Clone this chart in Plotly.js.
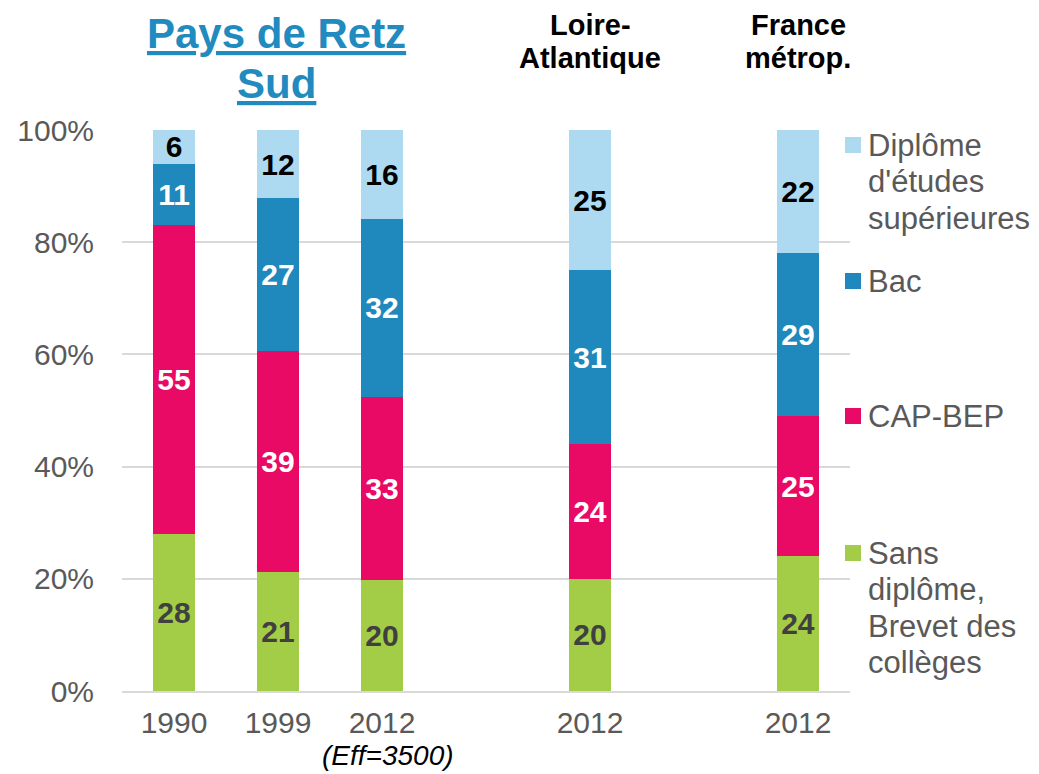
<!DOCTYPE html>
<html><head><meta charset="utf-8">
<script src="https://cdn.plot.ly/plotly-3.0.1.min.js"></script>
<style>html,body{margin:0;padding:0;background:#fff}#chart{width:1039px;height:774px}</style>
</head><body><div id="chart"></div>
<script>
// ---- data ----
const categories = ["Pays de Retz Sud 1990", "Pays de Retz Sud 1999", "Pays de Retz Sud 2012", "Loire-Atlantique 2012", "France métrop. 2012"];
const tickLabels = ["1990", "1999", "2012", "2012", "2012"];
const seriesNames = ["Sans diplôme, Brevet des collèges", "CAP-BEP", "Bac", "Diplôme d'études supérieures"];
const sansDiplome = [28, 21, 20, 20, 24];
const capBep = [55, 39, 33, 24, 25];
const bac = [11, 27, 32, 31, 29];
const superieur = [6, 12, 16, 25, 22];
const yTickValues = [0, 20, 40, 60, 80, 100];
const yTickLabels = ["0%", "20%", "40%", "60%", "80%", "100%"];
const note = "(Eff=3500)";

// ---- styling ----
const colors = ["#A3CD46", "#E80A64", "#1F89BD", "#ADDAF1"];
const textColors = ["#404040", "#FFFFFF", "#FFFFFF", "#000000"];
const values = [sansDiplome, capBep, bac, superieur];
const FONT = "Liberation Sans";

// plot area in pixels
const L = 122, R = 850, T = 130, B = 691;
const px = x => (x - L) / (R - L);
const py = y => (B - y) / (B - T);

const traces = values.map((v, i) => ({
  type: "bar",
  name: seriesNames[i],
  x: categories,
  y: v,
  text: v.map(String),
  textposition: "inside",
  insidetextanchor: "middle",
  textangle: 0,
  constraintext: "none",
  textfont: {family: FONT, size: 30, color: textColors[i], weight: "bold"},
  marker: {color: colors[i], line: {width: 0}},
  width: 0.4,
  hoverinfo: "skip",
  showlegend: false
}));

const catOrder = [categories[0], categories[1], categories[2], " ", categories[3], "  ", categories[4]];

const annotations = [];
const shapes = [];
// group titles
annotations.push({xref: "paper", yref: "paper", x: px(276), y: py(34), text: "<u>Pays de Retz</u>", showarrow: false,
  xanchor: "center", yanchor: "middle", font: {family: FONT, size: 42, color: "#218BC0", weight: "bold"}});
annotations.push({xref: "paper", yref: "paper", x: px(276), y: py(84), text: "<u>Sud</u>", showarrow: false,
  xanchor: "center", yanchor: "middle", font: {family: FONT, size: 42, color: "#218BC0", weight: "bold"}});
[["Loire-", "Atlantique", 590], ["France", "métrop.", 798]].forEach(g => {
  annotations.push({xref: "paper", yref: "paper", x: px(g[2]), y: py(25), text: "<b>" + g[0] + "</b>", showarrow: false,
    xanchor: "center", yanchor: "middle", font: {family: FONT, size: 29, color: "#000"}});
  annotations.push({xref: "paper", yref: "paper", x: px(g[2]), y: py(58), text: "<b>" + g[1] + "</b>", showarrow: false,
    xanchor: "center", yanchor: "middle", font: {family: FONT, size: 29, color: "#000"}});
});
annotations.push({xref: "paper", yref: "paper", x: px(388), y: py(773), text: "<i>" + note + "</i>", showarrow: false,
  xanchor: "center", yanchor: "bottom", font: {family: FONT, size: 28, color: "#000"}});

// legend (manual)
const legendLines = [
  ["Diplôme", "d'études", "supérieures"],
  ["Bac"],
  ["CAP-BEP"],
  ["Sans", "diplôme,", "Brevet des", "collèges"]
];
const legendTop = [145, 281, 416, 553];
const legendColorIdx = [3, 2, 1, 0];
legendLines.forEach((lines, k) => {
  const yc = legendTop[k];
  shapes.push({type: "rect", xref: "paper", yref: "paper", x0: px(845), x1: px(861), y0: py(yc - 8), y1: py(yc + 8),
    fillcolor: colors[legendColorIdx[k]], line: {width: 0}});
  lines.forEach((t, j) => {
    annotations.push({xref: "paper", yref: "paper", x: px(866), y: py(yc + j * 36.5), text: t, showarrow: false,
      xanchor: "left", yanchor: "middle", font: {family: FONT, size: 31, color: "#595959"}});
  });
});

const layout = {
  width: 1039, height: 774,
  margin: {l: L, r: 1039 - R, t: T, b: 774 - B},
  paper_bgcolor: "#fff", plot_bgcolor: "#fff",
  barmode: "stack",
  barnorm: "percent",
  showlegend: false,
  font: {family: FONT},
  xaxis: {
    type: "category", categoryorder: "array", categoryarray: catOrder,
    range: [-0.5, 6.5], tickvals: categories, ticktext: tickLabels,
    tickfont: {family: FONT, size: 30, color: "#595959"},
    showgrid: false, showline: true, linecolor: "#D9D9D9", linewidth: 2,
    ticks: "", ticklabelstandoff: 4, fixedrange: true
  },
  yaxis: {
    range: [0, 100], tickvals: yTickValues, ticktext: yTickLabels,
    tickfont: {family: FONT, size: 30, color: "#595959"},
    showgrid: true, gridcolor: "#D9D9D9", gridwidth: 2,
    zeroline: false, showline: false, ticks: "", ticklabelstandoff: 27, fixedrange: true
  },
  annotations: annotations,
  shapes: shapes,
  hovermode: false
};

Plotly.newPlot("chart", traces, layout, {displayModeBar: false, staticPlot: true});
</script></body></html>
